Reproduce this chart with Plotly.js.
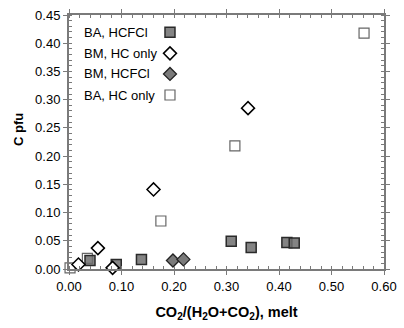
<!DOCTYPE html>
<html><head><meta charset="utf-8">
<script src="https://cdn.plot.ly/plotly-3.0.1.min.js"></script>
<style>html,body{margin:0;padding:0;background:#fff;}#chart{width:404px;height:328px;}</style>
</head><body><div id="chart"></div>
<script>
// Series names
const seriesNames = ['BA, HCFCl', 'BM, HC only', 'BM, HCFCl', 'BA, HC only'];
// BA, HCFCl (filled dark-gray squares)
const baHcfclX = [0.040, 0.090, 0.138, 0.309, 0.347, 0.415, 0.429];
const baHcfclY = [0.015, 0.008, 0.017, 0.049, 0.038, 0.047, 0.046];
// BM, HC only (open diamonds)
const bmHcX = [0.018, 0.055, 0.083, 0.161, 0.341];
const bmHcY = [0.008, 0.037, 0.002, 0.141, 0.285];
// BM, HCFCl (gray diamonds)
const bmHcfclX = [0.198, 0.218];
const bmHcfclY = [0.015, 0.017];
// BA, HC only (open squares)
const baHcX = [0.002, 0.035, 0.175, 0.316, 0.562];
const baHcY = [0.002, 0.019, 0.085, 0.218, 0.418];
// Axis ticks
const xTicks = [0.00, 0.10, 0.20, 0.30, 0.40, 0.50, 0.60];
const yTicks = [0.00, 0.05, 0.10, 0.15, 0.20, 0.25, 0.30, 0.35, 0.40, 0.45];

const F = 'Liberation Sans, Arial, sans-serif';
const styles = {
  baHcfcl: {symbol: 'square', size: 10, color: 'rgba(110,110,110,0.85)', line: {color: '#2a2a2a', width: 1.5}},
  bmHc:    {symbol: 'diamond', size: 10, color: '#ffffff', line: {color: '#000000', width: 1.5}},
  bmHcfcl: {symbol: 'diamond', size: 10, color: '#7a7a7a', line: {color: '#222222', width: 1.3}},
  baHc:    {symbol: 'square', size: 10, color: '#ffffff', line: {color: '#666666', width: 1.2}}
};
const traces = [
  {x: baHcX, y: baHcY, name: seriesNames[3], type: 'scatter', mode: 'markers', cliponaxis: false, marker: styles.baHc},
  {x: baHcfclX, y: baHcfclY, name: seriesNames[0], type: 'scatter', mode: 'markers', cliponaxis: false, marker: styles.baHcfcl},
  {x: bmHcfclX, y: bmHcfclY, name: seriesNames[2], type: 'scatter', mode: 'markers', cliponaxis: false, marker: styles.bmHcfcl},
  {x: bmHcX, y: bmHcY, name: seriesNames[1], type: 'scatter', mode: 'markers', cliponaxis: false, marker: styles.bmHc}
];

// Legend: text left, symbol right (as in the reference)
const legY = [0.932, 0.849, 0.768, 0.685];
const legStyles = [styles.baHcfcl, styles.bmHc, styles.bmHcfcl, styles.baHc];
const ann = seriesNames.map((s, i) => ({
  text: s, xref: 'paper', yref: 'paper', x: 0.041, y: legY[i],
  xanchor: 'left', yanchor: 'middle', showarrow: false, font: {family: F, size: 13, color: '#000'}
}));
const shapes = legStyles.map((st, i) => {
  const base = {xref: 'paper', yref: 'paper', xsizemode: 'pixel', ysizemode: 'pixel',
    xanchor: 0.3206, yanchor: legY[i], fillcolor: st.color, line: {color: st.line.color, width: st.line.width}};
  if (st.symbol === 'square') return Object.assign(base, {type: 'rect', x0: -5, x1: 5, y0: -5, y1: 5});
  return Object.assign(base, {type: 'path', path: 'M -6.5 0 L 0 6.5 L 6.5 0 L 0 -6.5 Z'});
});

const axisCommon = {
  showgrid: false, zeroline: false, showline: true, linecolor: '#7a7a7a', linewidth: 2,
  mirror: 'allticks', ticks: 'outside', ticklen: 4, tickwidth: 1, tickcolor: '#7a7a7a',
  tickfont: {family: F, size: 13, color: '#000'}
};

const layout = {
  width: 404, height: 328,
  margin: {l: 69, r: 20, t: 15, b: 59},
  paper_bgcolor: '#fff', plot_bgcolor: '#fff',
  showlegend: false,
  xaxis: Object.assign({}, axisCommon, {
    range: [0, 0.6], tickvals: xTicks, ticktext: xTicks.map(v => v.toFixed(2)),
    minor: {dtick: 0.02, ticks: 'inside', ticklen: 3, tickcolor: '#7a7a7a'},
    title: {text: '<b>CO<sub>2</sub>/(H<sub>2</sub>O+CO<sub>2</sub>), melt</b>', font: {family: F, size: 14.5, color: '#000'}, standoff: 14}
  }),
  yaxis: Object.assign({}, axisCommon, {
    range: [0, 0.45], tickvals: yTicks, ticktext: yTicks.map(v => v.toFixed(2)),
    minor: {dtick: 0.01, ticks: 'inside', ticklen: 3, tickcolor: '#7a7a7a'},
    title: {text: '<b>&nbsp;&nbsp;&nbsp;&nbsp;&nbsp;&nbsp;&nbsp;C pfu</b>', font: {family: F, size: 13, color: '#000'}, standoff: 9}
  }),
  annotations: ann,
  shapes: shapes
};
Plotly.newPlot('chart', traces, layout, {displayModeBar: false, staticPlot: true});
</script></body></html>
